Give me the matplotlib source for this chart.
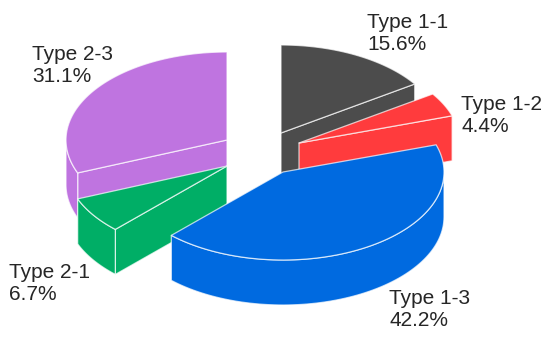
import numpy as np
import matplotlib
matplotlib.use('Agg')
import matplotlib.pyplot as plt
from matplotlib.patches import Polygon

plt.rcParams['font.family'] = ['Liberation Sans', 'DejaVu Sans']

# clockwise from 12 o'clock
types = ['Type 1-1', 'Type 1-2', 'Type 1-3', 'Type 2-1', 'Type 2-3']
shares = [15.6, 4.4, 42.2, 6.7, 31.1]
colors = ['#4c4c4c', '#ff3b3d', '#006ae0', '#00ae66', '#bf74e0']

# where each exploded slice has its tip, and where its label goes (in pixels)
tips = [(281, 133), (299, 143), (283, 172), (227, 166), (227, 140)]
label_pos = [(367, 33), (461, 116), (389, 309), (9, 284), (32, 65)]
draw_order = [0, 4, 1, 3, 2]

rx, ry = 161, 88
depth = 45
edge = (1, 1, 1, 0.7)


def rim(tip, a, b):
    t = np.radians(np.linspace(a, b, 80))
    return np.column_stack([tip[0] + rx*np.sin(t), tip[1] - ry*np.cos(t)])


fig = plt.figure(figsize=[5.5, 3.41], dpi=100)
ax = plt.axes([0, 0, 1, 1], xlim=[0, 550], ylim=[341, 0])
ax.axis('off')

ends = np.cumsum(shares)/sum(shares)*360
starts = np.r_[0, ends[:-1]]
down = np.array([0, depth])

for i in draw_order:
    a, b, tip = starts[i], ends[i], tips[i]
    faces = []
    # cut faces that look towards the viewer
    if 180 < a < 360:
        faces.append(np.vstack([tip, rim(tip, a, a), rim(tip, a, a)+down, np.add(tip, down)]))
    if 0 < b < 180:
        faces.append(np.vstack([tip, rim(tip, b, b), rim(tip, b, b)+down, np.add(tip, down)]))
    # outer wall, only the front half of the ellipse shows it
    lo, hi = max(a, 90), min(b, 270)
    if lo < hi:
        arc = rim(tip, lo, hi)
        faces.append(np.vstack([arc, (arc+down)[::-1]]))
    for f in faces:
        ax.add_patch(Polygon(f, closed=True, fc=colors[i], ec=edge, lw=0.9, joinstyle='round'))
    top = np.vstack([tip, rim(tip, a, b)])
    ax.add_patch(Polygon(top, closed=True, fc=colors[i], ec=edge, lw=0.9, joinstyle='round'))

for name, share, (x, y) in zip(types, shares, label_pos):
    ax.text(x, y, f'{name}\n{share:.1f}%', size=15, color='#262626', ha='left', va='center', linespacing=1.2)

plt.savefig('out.png', dpi=100)
plt.close()
